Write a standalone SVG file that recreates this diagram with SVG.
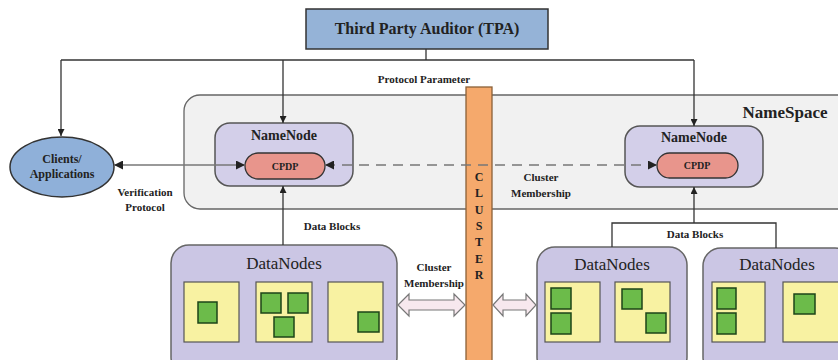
<svg xmlns="http://www.w3.org/2000/svg" width="838" height="360" viewBox="0 0 838 360">
<style>
text{font-family:"Liberation Serif","Times New Roman",serif;fill:#222;text-anchor:middle}
.b{font-weight:bold}
.lbl{font-size:11px;font-weight:bold}
.ln{fill:none;stroke:#333;stroke-width:1.3}
.gl{fill:none;stroke:#777;stroke-width:1.5}
.nn{fill:#d3cfe9;stroke:#555;stroke-width:1.5}
.cp{fill:#e8958c;stroke:#333;stroke-width:1.3}
.dn{fill:#cbc6e4;stroke:#666;stroke-width:1.5}
.y{fill:#f8f2a2;stroke:#555;stroke-width:1.2}
.g{fill:#6cbb4a;stroke:#1d4418;stroke-width:1.5}
.ha{fill:#f7e8ee;stroke:#777;stroke-width:1.2}
</style>
<defs>
<marker id="ah" viewBox="0 0 10 10" refX="10" refY="5" markerWidth="7" markerHeight="7" orient="auto-start-reverse" markerUnits="userSpaceOnUse">
<path d="M0,0 L10,5 L0,10 z" fill="#222"/>
</marker>
<marker id="ah2" viewBox="0 0 10 10" refX="10" refY="5" markerWidth="9" markerHeight="9" orient="auto-start-reverse" markerUnits="userSpaceOnUse">
<path d="M0,0 L10,5 L0,10 z" fill="#222"/>
</marker>
</defs>

<g id="namespace">
<rect x="184" y="95" width="680" height="114" rx="16" fill="#f1f1f1" stroke="#666" stroke-width="1.3"/>
<text x="785" y="118" class="b" font-size="17">NameSpace</text>
</g>

<g id="tpa">
<rect x="306" y="9" width="242" height="40" fill="#95b3d7" stroke="#333" stroke-width="1.5"/>
<text x="427" y="34" class="b" font-size="16">Third Party Auditor (TPA)</text>
</g>

<g id="clients">
<ellipse cx="62" cy="167" rx="52" ry="30" fill="#8fb0d9" stroke="#333" stroke-width="1.5"/>
<text x="62" y="163" class="b" font-size="12">Clients/</text>
<text x="62" y="178" class="b" font-size="12">Applications</text>
</g>

<g id="namenode1">
<rect x="215" y="123" width="138" height="63" rx="15" class="nn"/>
<text x="284" y="140" class="b" font-size="14">NameNode</text>
</g>
<g id="cpdp1">
<rect x="245" y="153" width="80" height="26" rx="13" class="cp"/>
<text x="285" y="170" class="b" font-size="10">CPDP</text>
</g>

<g id="namenode2">
<rect x="625" y="126" width="138" height="61" rx="15" class="nn"/>
<text x="694" y="142" class="b" font-size="14">NameNode</text>
</g>
<g id="cpdp2">
<rect x="657" y="153" width="81" height="25" rx="12.5" class="cp"/>
<text x="697" y="169" class="b" font-size="10">CPDP</text>
</g>

<g id="cluster">
<rect x="466" y="87" width="26" height="280" fill="#f5a96c" stroke="#8a6038" stroke-width="1.3"/>
<g class="b" font-size="12">
<text x="479" y="181">C</text>
<text x="479" y="197">L</text>
<text x="479" y="214">U</text>
<text x="479" y="230">S</text>
<text x="479" y="246">T</text>
<text x="479" y="263">E</text>
<text x="479" y="279">R</text>
</g>
</g>

<g id="datanodes1">
<rect x="171" y="245" width="226" height="130" rx="18" class="dn"/>
<text x="284" y="269" font-size="17">DataNodes</text>
<rect x="184" y="282" width="55" height="60" class="y"/>
<rect x="256" y="282" width="56" height="60" class="y"/>
<rect x="328" y="282" width="55" height="60" class="y"/>
<rect x="198" y="302" width="19" height="21" class="g"/>
<rect x="261" y="293" width="20" height="20" class="g"/>
<rect x="288" y="293" width="20" height="20" class="g"/>
<rect x="274" y="317" width="20" height="20" class="g"/>
<rect x="358" y="312" width="21" height="20" class="g"/>
</g>

<g id="datanodes2">
<rect x="537" y="247" width="150" height="128" rx="18" class="dn"/>
<text x="612" y="270" font-size="17">DataNodes</text>
<rect x="545" y="282" width="55" height="60" class="y"/>
<rect x="615" y="282" width="55" height="60" class="y"/>
<rect x="551" y="288" width="20" height="21" class="g"/>
<rect x="551" y="313" width="20" height="21" class="g"/>
<rect x="622" y="289" width="20" height="20" class="g"/>
<rect x="646" y="313" width="20" height="20" class="g"/>
</g>

<g id="datanodes3">
<rect x="703" y="248" width="150" height="127" rx="18" class="dn"/>
<text x="777" y="270" font-size="17">DataNodes</text>
<rect x="712" y="282" width="53" height="60" class="y"/>
<rect x="783" y="282" width="60" height="60" class="y"/>
<rect x="717" y="288" width="19" height="21" class="g"/>
<rect x="717" y="313" width="19" height="21" class="g"/>
<rect x="794" y="294" width="21" height="20" class="g"/>
</g>

<g id="connectors">
<path class="ln" d="M426,49 V60"/>
<path class="ln" d="M61,60 H694"/>
<path class="ln" d="M61,60 V136" marker-end="url(#ah)"/>
<path class="ln" d="M283,60 V123" marker-end="url(#ah)"/>
<path class="ln" d="M694,60 V126" marker-end="url(#ah)"/>
<path class="gl" d="M114,165 H245" marker-start="url(#ah2)" marker-end="url(#ah2)"/>
<path class="gl" d="M325,165 H657" stroke-dasharray="10,7" marker-start="url(#ah2)" marker-end="url(#ah2)"/>
<path class="ln" d="M283,245 V186" marker-end="url(#ah)"/>
<path class="ln" d="M612,247 V223 H776 V248"/>
<path class="ln" d="M694,223 V187" marker-end="url(#ah)"/>
<path class="ha" d="M398,305 L409,294 V300 H454 V294 L465,305 L454,316 V310 H409 V316 Z"/>
<path class="ha" d="M493,305 L503,294 V300 H526 V294 L536,305 L526,316 V310 H503 V316 Z"/>
</g>

<g id="labels">
<text x="424" y="83" class="lbl">Protocol Parameter</text>
<text x="145" y="196" class="lbl">Verification</text>
<text x="145" y="211" class="lbl">Protocol</text>
<text x="541" y="181" class="lbl">Cluster</text>
<text x="541" y="197" class="lbl">Membership</text>
<text x="332" y="230" class="lbl">Data Blocks</text>
<text x="695" y="238" class="lbl">Data Blocks</text>
<text x="434" y="271" class="lbl">Cluster</text>
<text x="434" y="287" class="lbl">Membership</text>
</g>
</svg>
